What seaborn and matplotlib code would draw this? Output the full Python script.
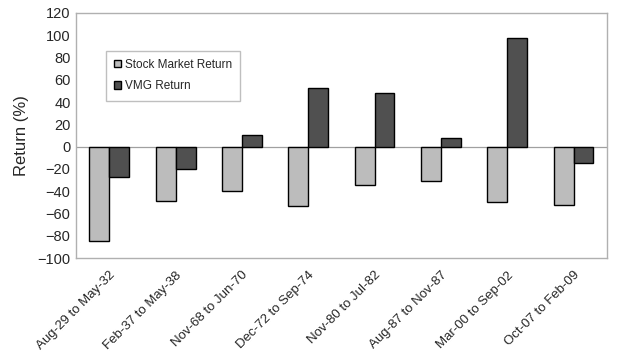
import pandas as pd
import seaborn as sns
import numpy as np
import matplotlib.pyplot as plt

periods = ["Aug-29 to May-32", "Feb-37 to May-38", "Nov-68 to Jun-70", "Dec-72 to Sep-74",
           "Nov-80 to Jul-82", "Aug-87 to Nov-87", "Mar-00 to Sep-02", "Oct-07 to Feb-09"]
stock_return = [-85, -49, -40, -53, -34, -31, -50, -52]
vmg_return = [-27, -20, 10, 53, 48, 8, 97, -15]

data = pd.DataFrame({
    "period": periods * 2,
    "series": ["Stock Market Return"] * len(periods) + ["VMG Return"] * len(periods),
    "ret": stock_return + vmg_return,
})

sns.set_style("white")
plt.rcParams['font.family'] = ['Liberation Sans', 'DejaVu Sans']

fig, ax = plt.subplots(figsize=(6.4, 3.57), dpi=100)
sns.barplot(data=data, x="period", y="ret", hue="series",
            palette=["#bcbcbc", "#505050"], width=0.6,
            edgecolor="black", linewidth=1.0, ax=ax)

ax.axhline(0, color="#a0a0a0", linewidth=0.9, zorder=0)
ax.set_ylim(-100, 120)
ax.set_yticks(np.arange(-100, 121, 20))
ax.set_xlim(-0.5, len(periods) - 0.5)
ax.set_xlabel("")
ax.set_ylabel("Return (%)", fontsize=12, labelpad=6)
ax.tick_params(axis="y", labelsize=10.5, length=0, pad=4)
ax.tick_params(axis="x", labelsize=9.5, length=0, pad=8)
plt.setp(ax.get_xticklabels(), rotation=45, ha="right", rotation_mode="anchor")

for s in ax.spines.values():
    s.set_color("#b0b0b0")
    s.set_linewidth(1.0)

leg = ax.legend(loc="upper left", bbox_to_anchor=(0.045, 0.87), fontsize=8.5,
                frameon=True, fancybox=False, edgecolor="#b0b0b0",
                handlelength=0.6, handleheight=0.6, handletextpad=0.3,
                labelspacing=0.8, borderpad=0.7)
leg.get_frame().set_linewidth(1.0)

fig.subplots_adjust(left=0.119, right=0.948, top=0.964, bottom=0.277)
fig.savefig("out.png", dpi=100)
